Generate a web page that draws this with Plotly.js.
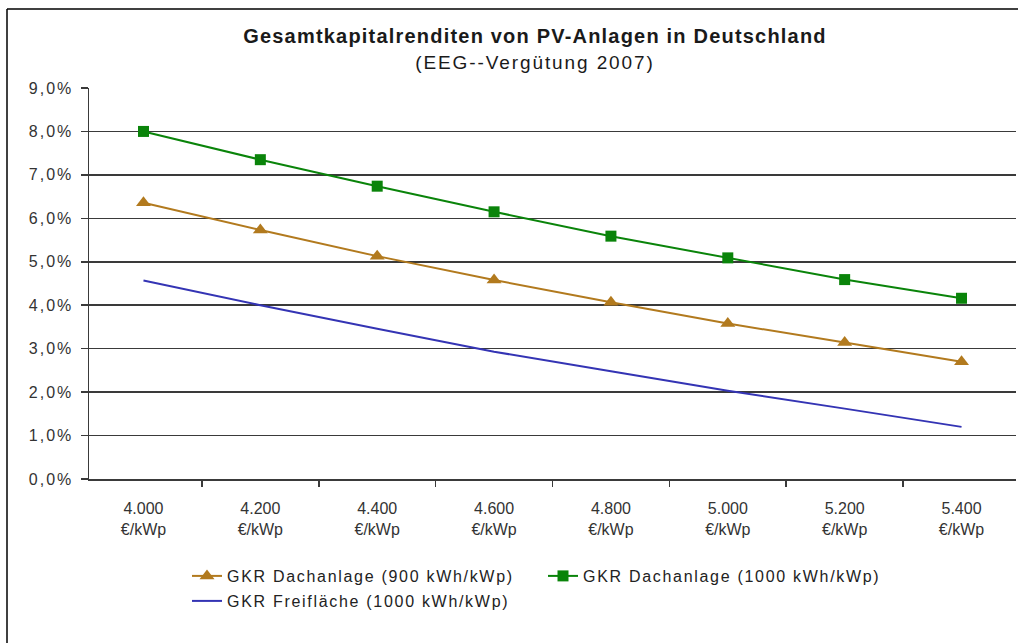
<!DOCTYPE html>
<html>
<head>
<meta charset="utf-8">
<script src="https://cdn.plot.ly/plotly-3.0.1.min.js"></script>
<style>
  html, body { margin: 0; padding: 0; background: #fff; }
  #chart { width: 1018px; height: 643px; }
  #chart .gtitle { letter-spacing: 1.2px; }
  #chart .ytick text { letter-spacing: 2px; }
  #chart .infolayer g[class^="legend"] text { letter-spacing: 1.7px; }
</style>
</head>
<body>
<div id="chart"></div>
<script>
const categories = ["4.000<br>€/kWp", "4.200<br>€/kWp", "4.400<br>€/kWp", "4.600<br>€/kWp",
                    "4.800<br>€/kWp", "5.000<br>€/kWp", "5.200<br>€/kWp", "5.400<br>€/kWp"];
const gkrDach900 = [6.36, 5.73, 5.13, 4.58, 4.07, 3.58, 3.14, 2.70];
const gkrDach1000 = [8.00, 7.35, 6.74, 6.15, 5.59, 5.09, 4.59, 4.16];
const gkrFrei1000 = [4.57, 4.00, 3.46, 2.93, 2.48, 2.03, 1.62, 1.20];
const seriesNames = ["GKR Dachanlage (900 kWh/kWp)", "GKR Dachanlage (1000 kWh/kWp)", "GKR Freifläche (1000 kWh/kWp)"];

const FONT = "Liberation Sans, Arial, sans-serif";
const W = 1018, H = 643;
const L = 89, R = 2, T = 88, B = 164;
const pw = W - L - R, ph = H - T - B;
const px = x => (x - L) / pw;
const py = y => (H - B - y) / ph;

const traces = [
  {
    x: categories, y: gkrDach900, name: seriesNames[0], type: "scatter", mode: "lines+markers",
    line: { color: "#b27a1e", width: 2 },
    marker: { symbol: "triangle-up", size: 13, color: "#b27a1e" },
    legend: "legend"
  },
  {
    x: categories, y: gkrDach1000, name: seriesNames[1], type: "scatter", mode: "lines+markers",
    line: { color: "#0a840a", width: 2 },
    marker: { symbol: "square", size: 11, color: "#0a840a" },
    legend: "legend"
  },
  {
    x: categories, y: gkrFrei1000, name: seriesNames[2], type: "scatter", mode: "lines",
    line: { color: "#3434b4", width: 2 },
    legend: "legend2"
  }
];

const legendCommon = {
  orientation: "h", xref: "paper", yref: "paper", xanchor: "left", yanchor: "middle",
  font: { family: FONT, size: 16, color: "#222" },
  bgcolor: "rgba(0,0,0,0)", borderwidth: 0, itemwidth: 30,
  entrywidth: 311, entrywidthmode: "pixels", tracegroupgap: 0
};

const layout = {
  width: W, height: H,
  margin: { l: L, r: R, t: T, b: B },
  paper_bgcolor: "#fff", plot_bgcolor: "#fff",
  separators: ",.",
  showlegend: true,
  title: {
    text: "<b>Gesamtkapitalrenditen von PV-Anlagen in Deutschland</b><br><span style=\"font-size:19px;letter-spacing:1.9px\">(EEG--Vergütung 2007)</span>",
    font: { family: FONT, size: 20, color: "#1a1a1a" },
    xref: "container", yref: "container",
    x: 535 / W, xanchor: "center",
    y: 1 - 43 / H, yanchor: "top"
  },
  xaxis: {
    type: "category",
    showgrid: false, zeroline: false,
    showline: true, linecolor: "#3a3a3a", linewidth: 1.5,
    ticks: "outside", ticklen: 6, tickcolor: "#3a3a3a", tickwidth: 1.5,
    tickson: "boundaries",
    tickfont: { family: FONT, size: 16, color: "#333" },
    ticklabelstandoff: 14,
    fixedrange: true
  },
  yaxis: {
    range: [0, 9], dtick: 1, tick0: 0,
    tickformat: ".1f", ticksuffix: "%",
    showgrid: true, gridcolor: "#3a3a3a", gridwidth: 1.5,
    zeroline: false,
    showline: true, linecolor: "#3a3a3a", linewidth: 1.5,
    ticks: "outside", ticklen: 7, tickcolor: "#3a3a3a", tickwidth: 1.5,
    tickfont: { family: FONT, size: 16, color: "#333" },
    ticklabelstandoff: 4,
    fixedrange: true
  },
  legend: Object.assign({}, legendCommon, { x: px(187), y: py(576) }),
  legend2: Object.assign({}, legendCommon, { x: px(187), y: py(601) }),
  shapes: [
    { type: "line", xref: "paper", yref: "paper", x0: px(7), x1: px(7), y0: py(9), y1: py(H + 5),
      line: { color: "#000", width: 1.5 } },
    { type: "line", xref: "paper", yref: "paper", x0: px(7), x1: px(W + 5), y0: py(9), y1: py(9),
      line: { color: "#000", width: 1.5 } }
  ]
};

Plotly.newPlot("chart", traces, layout, { displayModeBar: false, staticPlot: true });
</script>
</body>
</html>
